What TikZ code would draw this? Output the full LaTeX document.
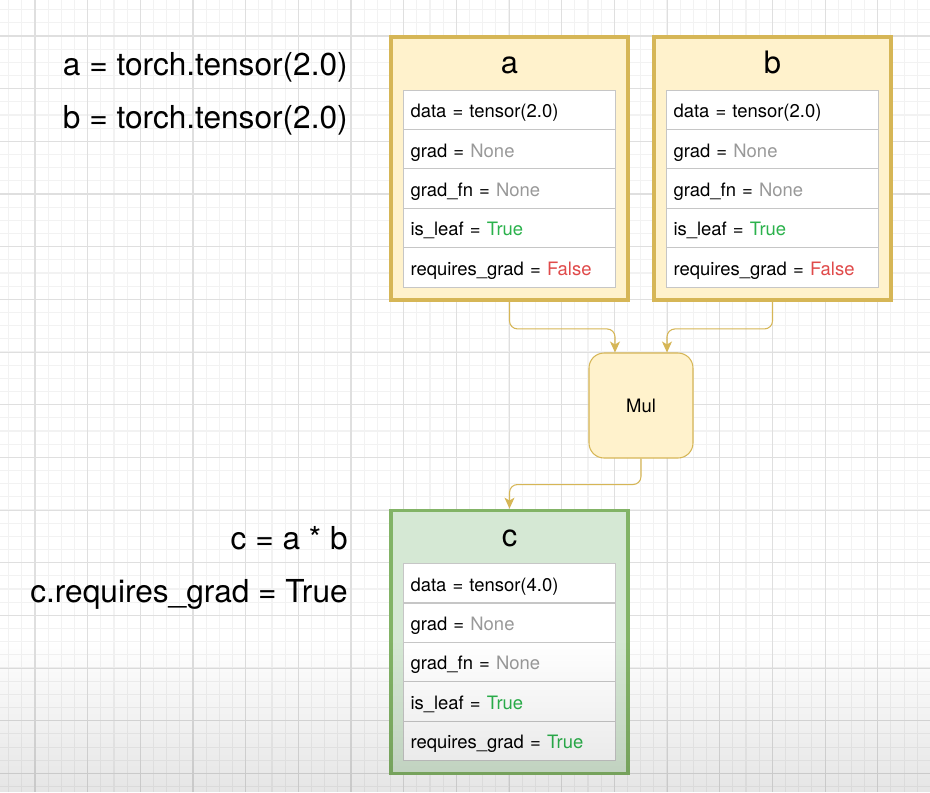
\documentclass[tikz,border=0pt]{standalone}
\usepackage{fontspec}
\setmainfont{TeX Gyre Heros}
\usetikzlibrary{positioning, calc, arrows.meta, fadings}
\definecolor{notefill}{HTML}{FFF2CC}
\definecolor{noteline}{HTML}{D6B656}
\definecolor{resultfill}{HTML}{D5E8D4}
\definecolor{resultline}{HTML}{82B366}
\definecolor{cellline}{HTML}{C6C6C6}
\definecolor{nonegray}{HTML}{999999}
\definecolor{truegreen}{HTML}{2BB24C}
\definecolor{falsered}{HTML}{E04A4A}
\definecolor{minorgrid}{HTML}{F2F2F2}
\definecolor{majorgrid}{HTML}{DFDFDF}

\begin{document}
\begin{tikzpicture}[x=0.02cm, y=-0.02cm,
        minorline/.style={draw=minorgrid, line width=0.6pt},
        majorline/.style={draw=majorgrid, line width=0.6pt},
        tensorbox/.style={draw=noteline, fill=notefill, line width=2.2pt, minimum width=4.74cm, minimum height=5.26cm, inner sep=0pt},
        resultbox/.style={tensorbox, draw=resultline, fill=resultfill},
        field/.style={draw=cellline, fill=white, line width=0.6pt, minimum width=4.24cm, minimum height=0.788cm,
            text width=3.96cm, inner xsep=0.14cm, inner ysep=0pt, outer sep=0pt, align=left,
            font=\fontsize{10.5}{12}\selectfont, text height=0.9em, text depth=0em},
        boxtitle/.style={font=\fontsize{17.6}{20}\selectfont, inner sep=0pt, anchor=base},
        codeline/.style={font=\fontsize{18}{20}\selectfont, inner sep=0pt, anchor=base east},
        opnode/.style={draw=noteline, fill=notefill, line width=0.6pt, rounded corners=0.3cm,
            minimum width=2.08cm, minimum height=2.1cm, font=\fontsize{10.5}{12}\selectfont},
        flow/.style={draw=noteline, line width=0.6pt, rounded corners=0.16cm,
            -{Stealth[length=0.22cm, width=0.2cm, inset=0.06cm]}}]
            \useasboundingbox (0,0) rectangle (930,792);
            \fill[white] (0,0) rectangle (930,792);
            % background grid
            \begin{scope}
                \clip (0,0) rectangle (930,792);
                \foreach \k in {0,...,72} {
                    \draw[minorline] ({-17.67+13.167*\k},0) -- ({-17.67+13.167*\k},792);
                    \draw[minorline] (0,{-16.67+13.167*\k}) -- (930,{-16.67+13.167*\k});
                }
                \foreach \k in {0,...,18} {
                    \draw[majorline] ({-17.67+52.67*\k},0) -- ({-17.67+52.67*\k},792);
                    \draw[majorline] (0,{-16.67+52.67*\k}) -- (930,{-16.67+52.67*\k});
                }
            \end{scope}

            % code on the left
            \node[codeline] (line-a) at (348,75) {a = torch.tensor(2.0)};
            \node[codeline] (line-b) at (348,128) {b = torch.tensor(2.0)};
            \node[codeline] (line-c) at (348,549) {c = a * b};
            \node[codeline] (line-req) at (348,602) {c.requires\_grad = True};

            % tensor a
            \node[tensorbox] (a) at (509.5,168.5) {};
            \node[boxtitle] (a-title) at ([yshift=-0.76cm]a.north) {a};
            \node[field] (a-data) at ([yshift=-1.494cm]a.north) {data = tensor(2.0)};
            \node[field, below=0pt of a-data] (a-grad) {grad = \textcolor{nonegray}{None}};
            \node[field, below=0pt of a-grad] (a-fn) {grad\_fn = \textcolor{nonegray}{None}};
            \node[field, below=0pt of a-fn] (a-leaf) {is\_leaf = \textcolor{truegreen}{True}};
            \node[field, below=0pt of a-leaf] (a-req) {requires\_grad = \textcolor{falsered}{False}};

            % tensor b
            \node[tensorbox] (b) at (772.5,168.5) {};
            \node[boxtitle] (b-title) at ([yshift=-0.76cm]b.north) {b};
            \node[field] (b-data) at ([yshift=-1.494cm]b.north) {data = tensor(2.0)};
            \node[field, below=0pt of b-data] (b-grad) {grad = \textcolor{nonegray}{None}};
            \node[field, below=0pt of b-grad] (b-fn) {grad\_fn = \textcolor{nonegray}{None}};
            \node[field, below=0pt of b-fn] (b-leaf) {is\_leaf = \textcolor{truegreen}{True}};
            \node[field, below=0pt of b-leaf] (b-req) {requires\_grad = \textcolor{falsered}{False}};

            % the operation
            \node[opnode] (mul) at (641,405.5) {Mul};

            % tensor c
            \node[resultbox] (c) at (509.5,642) {};
            \node[boxtitle] (c-title) at ([yshift=-0.76cm]c.north) {c};
            \node[field] (c-data) at ([yshift=-1.494cm]c.north) {data = tensor(4.0)};
            \node[field, below=0pt of c-data] (c-grad) {grad = \textcolor{nonegray}{None}};
            \node[field, below=0pt of c-grad] (c-fn) {grad\_fn = \textcolor{nonegray}{None}};
            \node[field, below=0pt of c-fn] (c-leaf) {is\_leaf = \textcolor{truegreen}{True}};
            \node[field, below=0pt of c-leaf] (c-req) {requires\_grad = \textcolor{truegreen}{True}};

            % edges
            \draw[flow] (a.south) -- ++(0,27) -| ([xshift=-0.52cm]mul.north);
            \draw[flow] (b.south) -- ++(0,27) -| ([xshift=0.52cm]mul.north);
            \draw[flow] (mul.south) -- ++(0,26) -| (c.north);

            % shade at the bottom
            \fill[black, fill opacity=0.1, path fading=north] (0,640) rectangle (930,792);
\end{tikzpicture}
\end{document}
